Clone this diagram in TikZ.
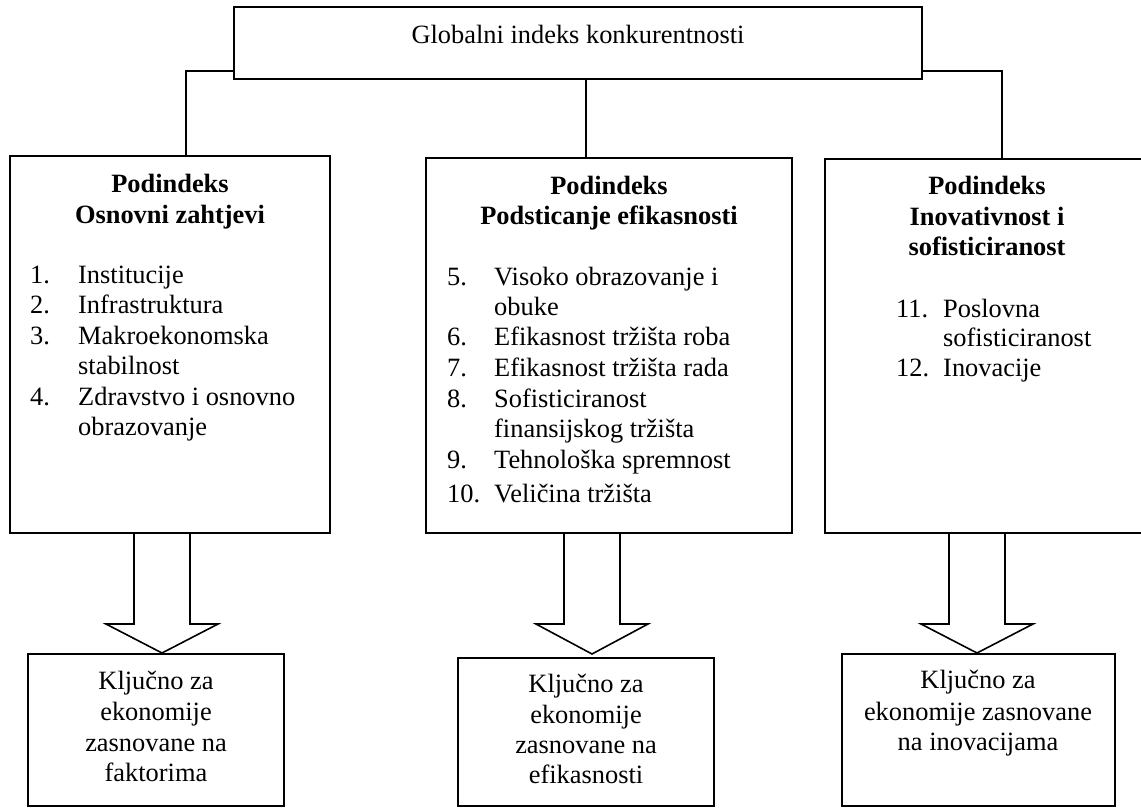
\documentclass[tikz,border=0pt]{standalone}
\usepackage{fontspec}
\setmainfont{Liberation Serif}
\usetikzlibrary{calc}
\newcommand\fsz{\fontsize{26.4}{30.5}\selectfont}
\begin{document}
\begin{tikzpicture}[x=1pt,y=-1pt,
  box/.style={draw, line width=1.6pt, fill=white, inner sep=0pt, outer sep=0pt, anchor=north west},
  conn/.style={draw, line width=1.6pt},
  blockarrow/.style={draw, line width=1.6pt, line join=miter},
  txt/.style={inner sep=0pt, anchor=base, font=\fsz},
  btxt/.style={inner sep=0pt, anchor=base, font=\fsz\bfseries},
  itm/.style={inner sep=0pt, anchor=base west, font=\fsz}]
\useasboundingbox (0,0) rectangle (1141,807);
\clip (0,0) rectangle (1141,807);

% block arrows (drawn first)
\coordinate (a1) at (162,533);
\coordinate (a2) at (592,533);
\coordinate (a3) at (977,533);
\foreach \a/\t in {a1/120,a2/121,a3/120}{
  \begin{scope}[shift={(\a)}]
    \draw[blockarrow] (-28,0) -- (-28,91) -- (-56,91) -- (0,\t) -- (56,91) -- (28,91) -- (28,0);
  \end{scope}
}

% boxes
\node[box, minimum width=688, minimum height=72] (top) at (234,7) {};
\node[box, minimum width=320, minimum height=377] (b1) at (10,156) {};
\node[box, minimum width=366, minimum height=375] (b2) at (426,158) {};
\node[box, minimum width=324, minimum height=374] (b3) at (825,159) {};
\node[box, minimum width=256, minimum height=152] (k1) at (28,654) {};
\node[box, minimum width=256, minimum height=148] (k2) at (458,658) {};
\node[box, minimum width=273, minimum height=152] (k3) at (842,654) {};

% connectors
\draw[conn] ([yshift=8pt]top.south west) -| ([xshift=16pt]b1.north);
\draw[conn] ([xshift=8pt]top.south) -- ([xshift=-23pt]b2.north);
\draw[conn] ([yshift=8pt]top.south east) -| ([xshift=15pt]b3.north);

% top text
\node[txt] (ttop) at (578,43) {Globalni indeks konkurentnosti};

% left box
\node[btxt] (h1a) at (170,192) {Podindeks};
\node[btxt] (h1b) at (170,223) {Osnovni zahtjevi};
\foreach \n/\s/\y [count=\i] in {1./Institucije/283, 2./Infrastruktura/313, 3./Makroekonomska/344, /stabilnost/374, 4./Zdravstvo i osnovno/405, /obrazovanje/435}{
  \node[itm] (n1\i) at (30,\y) {\n};
  \node[itm] (s1\i) at (78,\y) {\s};
}

% middle box
\node[btxt] (h2a) at (609,194) {Podindeks};
\node[btxt] (h2b) at (609,224) {Podsticanje efikasnosti};
\foreach \n/\s/\y [count=\i] in {5./Visoko obrazovanje i/285, /obuke/315, 6./Efikasnost tržišta roba/345, 7./Efikasnost tržišta rada/376, 8./Sofisticiranost/407, /finansijskog tržišta/437, 9./Tehnološka spremnost/468, 10./Veličina tržišta/502}{
  \node[itm] (n2\i) at (447,\y) {\n};
  \node[itm] (s2\i) at (494,\y) {\s};
}

% right box
\node[btxt] (h3a) at (987,194) {Podindeks};
\node[btxt] (h3b) at (987,225) {Inovativnost i};
\node[btxt] (h3c) at (987,255) {sofisticiranost};
\foreach \n/\s/\y [count=\i] in {11./Poslovna/317, /sofisticiranost/346, 12./Inovacije/376}{
  \node[itm] (n3\i) at (896,\y) {\n};
  \node[itm] (s3\i) at (943,\y) {\s};
}

% bottom boxes text
\foreach \s/\y [count=\i] in {Ključno za/689, ekonomije/720, zasnovane na/751, faktorima/781}{
  \node[txt] (k1t\i) at (156,\y) {\s};
}
\foreach \s/\y [count=\i] in {Ključno za/692, ekonomije/723, zasnovane na/753, efikasnosti/783}{
  \node[txt] (k2t\i) at (586,\y) {\s};
}
\foreach \s/\y [count=\i] in {Ključno za/688, ekonomije zasnovane/720, na inovacijama/750}{
  \node[txt] (k3t\i) at (978,\y) {\s};
}
\end{tikzpicture}
\end{document}
